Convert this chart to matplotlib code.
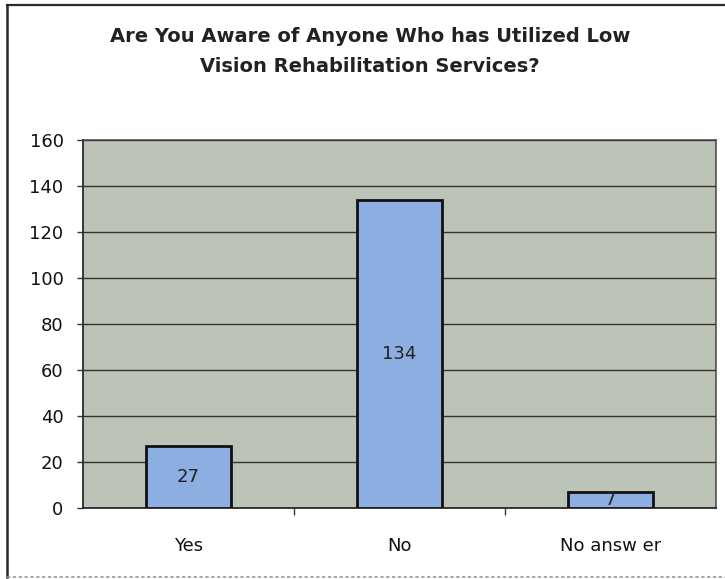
import matplotlib
matplotlib.use("Agg")
import matplotlib.pyplot as plt
from matplotlib.lines import Line2D

categories = ["Yes", "No", "No answ er"]
values = [27, 134, 7]
yticks = [0, 20, 40, 60, 80, 100, 120, 140, 160]
title_lines = ["Are You Aware of Anyone Who has Utilized Low",
               "Vision Rehabilitation Services?"]

plt.rcParams['font.family'] = ['DejaVu Sans']

W, H = 725, 579
fig = plt.figure(figsize=(W/100, H/100), dpi=100)
fig.patch.set_facecolor('white')
# outer frame: dark left/top, faint bottom (right edge lies outside the image)
fig.add_artist(Line2D([7/W, 7/W], [1-577/H, 1-5/H], transform=fig.transFigure,
                      color='#2a2a2a', linewidth=1.8))
fig.add_artist(Line2D([7/W, 1.0], [1-5/H, 1-5/H], transform=fig.transFigure,
                      color='#2a2a2a', linewidth=1.6))
fig.add_artist(Line2D([7/W, 1.0], [1-577/H, 1-577/H], transform=fig.transFigure,
                      color='#9a9a9a', linewidth=1.2, linestyle=(0, (2, 1.5))))

ax = fig.add_axes([83/W, 1-508/H, 633/W, 368/H])
ax.set_facecolor('#bcc4b7')
x = list(range(len(categories)))
ax.bar(x, values, width=0.4, color='#8daee0', edgecolor='#111111', linewidth=2, zorder=3)
for xi, v in zip(x, values):
    ax.text(xi, v/2, str(v), ha='center', va='center', fontsize=13, color='#222222', zorder=4)

ax.set_xlim(-0.5, len(categories)-0.5)
ax.set_ylim(0, 160)
ax.set_yticks(yticks)
ax.set_yticklabels([str(t) for t in yticks], fontsize=13, color='#111111')
ax.set_xticks(x)
ax.set_xticklabels(categories, fontsize=13, color='#111111')
ax.tick_params(axis='x', length=0, pad=21)
ax.set_xticks([0.5, 1.5], minor=True)
ax.tick_params(axis='x', which='minor', length=5, width=1, color='#333333', direction='out')
ax.tick_params(axis='y', length=4, width=1, color='#333333', direction='out', pad=10)
ax.grid(axis='y', color='#333333', linewidth=1, zorder=1)
ax.set_axisbelow(True)
for s in ['left', 'bottom']:
    ax.spines[s].set_color('#2a2a2a')
    ax.spines[s].set_linewidth(1.3)
for s in ['top', 'right']:
    ax.spines[s].set_color('#444444')
    ax.spines[s].set_linewidth(1.1)

for i, line in enumerate(title_lines):
    fig.text(370/W, 1-(37 + 30*i)/H, line, ha='center', va='center', fontsize=14,
             fontweight='bold', color='#222222')

fig.savefig("out.png", dpi=100)
